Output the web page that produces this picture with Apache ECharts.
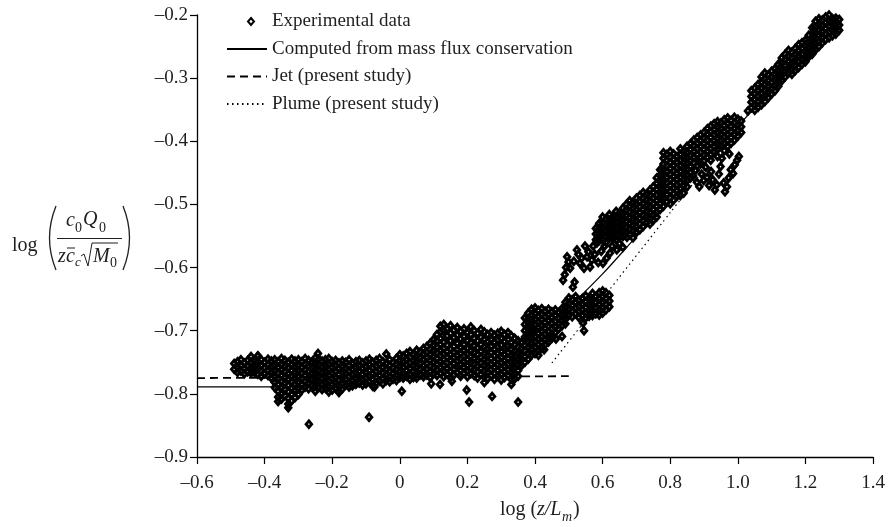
<!DOCTYPE html>
<html>
<head>
<meta charset="utf-8">
<script src="https://cdn.jsdelivr.net/npm/echarts@6/dist/echarts.min.js"></script>
<style>
  html, body { margin: 0; padding: 0; background: #fff; }
  #chart { width: 889px; height: 527px; }
</style>
</head>
<body>
<div id="chart"></div>
<script>
// Measured concentrations: each row is [log(z/Lm), log(...) values observed at that station]
const flatRun = [
  [-0.49,-0.752,-0.761],
  [-0.48,-0.749,-0.758,-0.766],
  [-0.47,-0.746,-0.755,-0.764],
  [-0.46,-0.751,-0.760,-0.768],
  [-0.45,-0.747,-0.756,-0.765],
  [-0.44,-0.741,-0.750,-0.759,-0.767],
  [-0.43,-0.748,-0.757,-0.766],
  [-0.42,-0.740,-0.749,-0.758,-0.769],
  [-0.41,-0.746,-0.755,-0.764,-0.772],
  [-0.40,-0.750,-0.759,-0.768],
  [-0.39,-0.745,-0.754,-0.763,-0.771],
  [-0.38,-0.748,-0.757,-0.766,-0.775],
  [-0.37,-0.746,-0.755,-0.764,-0.773,-0.782,-0.790],
  [-0.36,-0.749,-0.758,-0.767,-0.776,-0.785,-0.796,-0.805],
  [-0.35,-0.744,-0.753,-0.762,-0.771,-0.780,-0.790,-0.800,-0.808],
  [-0.34,-0.747,-0.756,-0.765,-0.774,-0.783,-0.793,-0.803],
  [-0.33,-0.750,-0.759,-0.768,-0.777,-0.786,-0.797,-0.807,-0.816],
  [-0.32,-0.745,-0.754,-0.763,-0.772,-0.781,-0.791,-0.801,-0.811],
  [-0.31,-0.748,-0.757,-0.766,-0.775,-0.784,-0.794,-0.806],
  [-0.30,-0.746,-0.755,-0.764,-0.773,-0.782,-0.792,-0.801],
  [-0.29,-0.749,-0.758,-0.767,-0.776,-0.785,-0.794],
  [-0.28,-0.744,-0.753,-0.762,-0.771,-0.780,-0.789],
  [-0.27,-0.747,-0.756,-0.765,-0.774,-0.783,-0.792],
  [-0.26,-0.750,-0.759,-0.768,-0.777,-0.786],
  [-0.25,-0.743,-0.752,-0.761,-0.770,-0.779,-0.788,-0.796],
  [-0.24,-0.745,-0.754,-0.763,-0.772,-0.781,-0.790],
  [-0.23,-0.748,-0.757,-0.766,-0.775,-0.784,-0.793],
  [-0.22,-0.746,-0.755,-0.764,-0.773,-0.782,-0.791],
  [-0.21,-0.744,-0.753,-0.762,-0.771,-0.780,-0.789,-0.797],
  [-0.20,-0.749,-0.758,-0.767,-0.776,-0.785,-0.794],
  [-0.19,-0.747,-0.756,-0.765,-0.774,-0.783,-0.791],
  [-0.18,-0.751,-0.760,-0.769,-0.778,-0.787,-0.796],
  [-0.17,-0.748,-0.757,-0.766,-0.775,-0.784,-0.792],
  [-0.16,-0.750,-0.759,-0.768,-0.777,-0.786],
  [-0.15,-0.746,-0.755,-0.764,-0.773,-0.782,-0.789],
  [-0.14,-0.752,-0.761,-0.770,-0.779,-0.787],
  [-0.13,-0.749,-0.758,-0.767,-0.776,-0.785],
  [-0.12,-0.747,-0.756,-0.765,-0.774,-0.783],
  [-0.11,-0.751,-0.760,-0.769,-0.778,-0.786],
  [-0.10,-0.748,-0.757,-0.766,-0.775,-0.784],
  [-0.09,-0.745,-0.754,-0.763,-0.772,-0.781],
  [-0.08,-0.750,-0.759,-0.768,-0.777,-0.788],
  [-0.07,-0.747,-0.756,-0.765,-0.774,-0.783],
  [-0.06,-0.744,-0.753,-0.762,-0.771,-0.780],
  [-0.05,-0.749,-0.758,-0.767,-0.776,-0.784],
  [-0.04,-0.737,-0.752,-0.761,-0.770,-0.779],
  [-0.03,-0.746,-0.755,-0.764,-0.773,-0.781],
  [-0.02,-0.750,-0.759,-0.768,-0.777],
  [-0.01,-0.744,-0.753,-0.762,-0.771,-0.779],
  [0.00,-0.738,-0.747,-0.756,-0.765,-0.774]
];

const kneeRun = [
  [0.01,-0.740,-0.749,-0.758,-0.767,-0.775],
  [0.02,-0.736,-0.745,-0.754,-0.763,-0.772],
  [0.03,-0.733,-0.742,-0.751,-0.760,-0.769,-0.777],
  [0.04,-0.738,-0.747,-0.756,-0.765,-0.774],
  [0.05,-0.731,-0.740,-0.749,-0.758,-0.767,-0.775],
  [0.06,-0.734,-0.743,-0.752,-0.761,-0.770],
  [0.07,-0.728,-0.737,-0.746,-0.755,-0.764,-0.773],
  [0.08,-0.725,-0.734,-0.743,-0.752,-0.761,-0.770],
  [0.09,-0.720,-0.729,-0.738,-0.747,-0.756,-0.765,-0.774],
  [0.10,-0.714,-0.723,-0.732,-0.741,-0.750,-0.759,-0.768],
  [0.11,-0.706,-0.716,-0.726,-0.735,-0.744,-0.753,-0.762,-0.771],
  [0.12,-0.693,-0.702,-0.712,-0.722,-0.731,-0.740,-0.749,-0.758,-0.767],
  [0.13,-0.690,-0.700,-0.718,-0.728,-0.737,-0.746,-0.755,-0.764,-0.773],
  [0.14,-0.697,-0.708,-0.723,-0.733,-0.742,-0.751,-0.760,-0.769],
  [0.15,-0.692,-0.704,-0.716,-0.729,-0.738,-0.747,-0.756,-0.765,-0.774],
  [0.16,-0.699,-0.711,-0.725,-0.734,-0.743,-0.752,-0.761,-0.770],
  [0.17,-0.695,-0.707,-0.720,-0.730,-0.739,-0.748,-0.757,-0.766],
  [0.18,-0.701,-0.713,-0.727,-0.736,-0.745,-0.754,-0.763,-0.772],
  [0.19,-0.697,-0.709,-0.722,-0.731,-0.740,-0.749,-0.758,-0.767],
  [0.20,-0.703,-0.716,-0.728,-0.737,-0.746,-0.755,-0.764,-0.773],
  [0.21,-0.694,-0.706,-0.719,-0.732,-0.741,-0.750,-0.759,-0.768],
  [0.22,-0.700,-0.712,-0.724,-0.735,-0.744,-0.753,-0.762,-0.771],
  [0.23,-0.704,-0.716,-0.727,-0.738,-0.747,-0.756,-0.765,-0.775],
  [0.24,-0.698,-0.710,-0.722,-0.733,-0.742,-0.751,-0.760,-0.769],
  [0.25,-0.702,-0.714,-0.726,-0.737,-0.746,-0.755,-0.764,-0.773],
  [0.26,-0.706,-0.717,-0.728,-0.739,-0.748,-0.757,-0.766,-0.776],
  [0.27,-0.703,-0.714,-0.725,-0.735,-0.744,-0.753,-0.762,-0.771],
  [0.28,-0.707,-0.718,-0.729,-0.740,-0.749,-0.758,-0.767,-0.777],
  [0.29,-0.704,-0.715,-0.726,-0.736,-0.745,-0.754,-0.763,-0.772],
  [0.30,-0.701,-0.712,-0.723,-0.733,-0.742,-0.751,-0.760,-0.769,-0.778],
  [0.31,-0.706,-0.717,-0.728,-0.738,-0.747,-0.756,-0.765,-0.774],
  [0.32,-0.703,-0.714,-0.725,-0.735,-0.744,-0.753,-0.762,-0.771],
  [0.33,-0.708,-0.719,-0.730,-0.740,-0.749,-0.758,-0.767,-0.777],
  [0.34,-0.712,-0.722,-0.732,-0.741,-0.750,-0.759,-0.768,-0.776],
  [0.35,-0.716,-0.726,-0.736,-0.745,-0.754,-0.763,-0.772],
  [0.36,-0.719,-0.728,-0.737,-0.746,-0.755],
  [0.37,-0.714,-0.723,-0.732,-0.741,-0.750],
  [0.38,-0.709,-0.718,-0.727,-0.736,-0.745]
];

const lowerStep = [
  [0.37,-0.680,-0.690,-0.700,-0.710],
  [0.38,-0.672,-0.682,-0.692,-0.702],
  [0.39,-0.666,-0.675,-0.684,-0.693,-0.702,-0.711,-0.720,-0.729,-0.738],
  [0.40,-0.664,-0.673,-0.682,-0.691,-0.700,-0.709,-0.718,-0.727,-0.736],
  [0.41,-0.668,-0.677,-0.686,-0.695,-0.704,-0.713,-0.722,-0.731],
  [0.42,-0.665,-0.674,-0.683,-0.692,-0.701,-0.710,-0.719,-0.728],
  [0.43,-0.669,-0.678,-0.687,-0.696,-0.705,-0.714,-0.722],
  [0.44,-0.666,-0.675,-0.684,-0.693,-0.702,-0.711,-0.718],
  [0.45,-0.670,-0.679,-0.688,-0.697,-0.706,-0.712],
  [0.46,-0.667,-0.676,-0.685,-0.694,-0.703],
  [0.47,-0.671,-0.680,-0.689,-0.697],
  [0.48,-0.665,-0.674,-0.683,-0.692],
  [0.49,-0.655,-0.664,-0.673,-0.682,-0.689],
  [0.50,-0.648,-0.657,-0.666,-0.675],
  [0.51,-0.651,-0.660,-0.669,-0.678],
  [0.52,-0.646,-0.655,-0.664,-0.673],
  [0.53,-0.652,-0.661,-0.670,-0.679],
  [0.54,-0.649,-0.658,-0.667,-0.676],
  [0.55,-0.645,-0.654,-0.663,-0.672,-0.680],
  [0.56,-0.650,-0.659,-0.668,-0.677],
  [0.57,-0.641,-0.650,-0.659,-0.668,-0.676],
  [0.58,-0.646,-0.655,-0.664,-0.673],
  [0.59,-0.640,-0.649,-0.658,-0.667,-0.675],
  [0.60,-0.637,-0.646,-0.655,-0.664,-0.672],
  [0.61,-0.640,-0.649,-0.658,-0.667],
  [0.62,-0.644,-0.653,-0.662]
];

const upperBand = [
  [0.58,-0.538,-0.547,-0.556],
  [0.59,-0.530,-0.539,-0.548,-0.557],
  [0.60,-0.520,-0.529,-0.538,-0.547,-0.556],
  [0.61,-0.524,-0.533,-0.542,-0.551,-0.560],
  [0.62,-0.516,-0.525,-0.534,-0.543,-0.552],
  [0.63,-0.519,-0.528,-0.537,-0.546,-0.555],
  [0.64,-0.511,-0.520,-0.529,-0.538,-0.547,-0.556],
  [0.65,-0.514,-0.523,-0.532,-0.541,-0.550],
  [0.66,-0.506,-0.515,-0.524,-0.533,-0.542,-0.551],
  [0.67,-0.500,-0.509,-0.518,-0.527,-0.536,-0.545],
  [0.68,-0.494,-0.503,-0.512,-0.521,-0.530,-0.539,-0.548],
  [0.69,-0.497,-0.506,-0.515,-0.524,-0.533,-0.542],
  [0.70,-0.490,-0.499,-0.508,-0.517,-0.526,-0.535,-0.544],
  [0.71,-0.486,-0.495,-0.504,-0.513,-0.522,-0.531,-0.540],
  [0.72,-0.481,-0.490,-0.499,-0.508,-0.517,-0.526,-0.535],
  [0.73,-0.484,-0.493,-0.502,-0.511,-0.520,-0.529],
  [0.74,-0.477,-0.486,-0.495,-0.504,-0.513,-0.522,-0.531],
  [0.75,-0.472,-0.481,-0.490,-0.499,-0.508,-0.517,-0.525],
  [0.76,-0.458,-0.467,-0.476,-0.485,-0.494,-0.503,-0.512,-0.520],
  [0.77,-0.445,-0.454,-0.463,-0.472,-0.481,-0.490,-0.499,-0.508],
  [0.78,-0.418,-0.427,-0.436,-0.445,-0.454,-0.463,-0.472,-0.481,-0.490,-0.503],
  [0.79,-0.421,-0.430,-0.439,-0.448,-0.457,-0.466,-0.475,-0.484,-0.496],
  [0.80,-0.416,-0.425,-0.434,-0.443,-0.452,-0.461,-0.470,-0.479,-0.490,-0.499],
  [0.81,-0.420,-0.429,-0.438,-0.447,-0.456,-0.465,-0.474,-0.483,-0.493],
  [0.82,-0.424,-0.433,-0.442,-0.451,-0.460,-0.469,-0.478,-0.487],
  [0.83,-0.412,-0.421,-0.430,-0.439,-0.448,-0.457,-0.466,-0.475,-0.486],
  [0.84,-0.416,-0.425,-0.434,-0.443,-0.452,-0.461,-0.470,-0.482],
  [0.85,-0.408,-0.417,-0.426,-0.435,-0.444,-0.453,-0.462,-0.472],
  [0.86,-0.404,-0.413,-0.422,-0.431,-0.440,-0.449,-0.458]
];

const topRun = [
  [0.87,-0.398,-0.407,-0.416,-0.425,-0.434],
  [0.88,-0.394,-0.403,-0.412,-0.421,-0.430,-0.439],
  [0.89,-0.390,-0.399,-0.408,-0.417,-0.426,-0.435],
  [0.90,-0.386,-0.395,-0.404,-0.413,-0.422,-0.431],
  [0.91,-0.380,-0.389,-0.398,-0.407,-0.416,-0.425],
  [0.92,-0.376,-0.385,-0.394,-0.403,-0.412,-0.421],
  [0.93,-0.372,-0.381,-0.390,-0.399,-0.408,-0.417],
  [0.94,-0.369,-0.378,-0.387,-0.396,-0.405,-0.413],
  [0.95,-0.371,-0.380,-0.389,-0.398,-0.407],
  [0.96,-0.366,-0.375,-0.384,-0.393,-0.402],
  [0.97,-0.363,-0.372,-0.381,-0.390,-0.399,-0.408],
  [0.98,-0.367,-0.376,-0.385,-0.394,-0.403],
  [0.99,-0.362,-0.371,-0.380,-0.389,-0.398],
  [1.00,-0.365,-0.374,-0.383,-0.392],
  [1.01,-0.368,-0.377,-0.386],
  [1.03,-0.352],
  [1.04,-0.320,-0.329,-0.338,-0.347],
  [1.05,-0.316,-0.325,-0.334,-0.343,-0.351],
  [1.06,-0.310,-0.319,-0.328,-0.337,-0.346],
  [1.07,-0.298,-0.307,-0.316,-0.325,-0.334,-0.342],
  [1.08,-0.292,-0.301,-0.310,-0.319,-0.328,-0.337],
  [1.09,-0.295,-0.304,-0.313,-0.322,-0.331],
  [1.10,-0.289,-0.298,-0.307,-0.316,-0.325],
  [1.11,-0.285,-0.294,-0.303,-0.312,-0.320],
  [1.12,-0.278,-0.287,-0.296,-0.305,-0.313],
  [1.13,-0.268,-0.277,-0.286,-0.295,-0.304],
  [1.14,-0.262,-0.271,-0.280,-0.289,-0.298],
  [1.15,-0.256,-0.265,-0.274,-0.283,-0.292],
  [1.16,-0.259,-0.268,-0.277,-0.286,-0.294],
  [1.17,-0.253,-0.262,-0.271,-0.280,-0.288],
  [1.18,-0.247,-0.256,-0.265,-0.274,-0.283],
  [1.19,-0.244,-0.253,-0.262,-0.271,-0.278],
  [1.20,-0.240,-0.249,-0.258,-0.267,-0.274],
  [1.21,-0.232,-0.241,-0.250,-0.259,-0.266],
  [1.22,-0.220,-0.229,-0.238,-0.247,-0.256,-0.262],
  [1.23,-0.210,-0.219,-0.228,-0.237,-0.246,-0.255],
  [1.24,-0.206,-0.215,-0.224,-0.233,-0.242,-0.250],
  [1.25,-0.208,-0.217,-0.226,-0.235,-0.244],
  [1.26,-0.203,-0.212,-0.221,-0.230,-0.239],
  [1.27,-0.200,-0.209,-0.218,-0.227,-0.236],
  [1.28,-0.197,-0.206,-0.215,-0.224,-0.233],
  [1.29,-0.196,-0.205,-0.214,-0.223,-0.230],
  [1.30,-0.198,-0.207,-0.216,-0.224]
];

// Isolated readings as [x, y]
const upperScatter = [
  [0.483,-0.620],[0.488,-0.611],[0.492,-0.600],[0.495,-0.583],[0.499,-0.591],[0.504,-0.601],
  [0.512,-0.631],[0.515,-0.590],[0.517,-0.623],[0.524,-0.572],[0.528,-0.579],[0.533,-0.593],
  [0.538,-0.585],[0.545,-0.601],[0.548,-0.566],[0.554,-0.583],[0.558,-0.575],[0.563,-0.599],
  [0.568,-0.588],[0.572,-0.566],[0.577,-0.579],[0.583,-0.561],[0.587,-0.592],[0.592,-0.552],
  [0.596,-0.574],[0.601,-0.593],[0.606,-0.566],[0.612,-0.585],[0.622,-0.577],[0.628,-0.566],
  [0.631,-0.552],[0.642,-0.572],[0.650,-0.562],[0.660,-0.568],[0.672,-0.552],[0.690,-0.553]
];

const lowerRightScatter = [
  [0.868,-0.455],[0.875,-0.446],[0.879,-0.465],[0.885,-0.432],[0.886,-0.472],[0.893,-0.452],
  [0.899,-0.462],[0.905,-0.441],[0.909,-0.457],[0.915,-0.470],[0.920,-0.430],[0.921,-0.448],
  [0.926,-0.461],[0.932,-0.477],[0.938,-0.469],[0.940,-0.424],[0.944,-0.452],[0.949,-0.440],
  [0.953,-0.427],[0.958,-0.466],[0.960,-0.415],[0.962,-0.480],[0.968,-0.472],[0.973,-0.458],
  [0.975,-0.420],[0.979,-0.445],[0.986,-0.451],[0.991,-0.437],[0.998,-0.430],[1.003,-0.424]
];

const strays = [
  [-0.420,-0.740],[-0.360,-0.812],[-0.330,-0.822],[-0.269,-0.848],[-0.242,-0.736],
  [-0.180,-0.798],[-0.091,-0.837],[-0.075,-0.789],[0.006,-0.796],[0.093,-0.784],
  [0.119,-0.785],[0.154,-0.780],[0.198,-0.794],[0.205,-0.813],[0.250,-0.782],
  [0.273,-0.804],[0.330,-0.785],[0.350,-0.813],[0.410,-0.739],[0.427,-0.730],
  [0.462,-0.713],[0.480,-0.709],[0.542,-0.688],[0.545,-0.700]
];

// Model curves
const computedLine = [
  [-0.6,-0.789],[-0.4,-0.789],[-0.3,-0.789],[-0.2,-0.787],[-0.1,-0.783],[0.0,-0.777],
  [0.1,-0.767],[0.2,-0.752],[0.3,-0.731],[0.4,-0.700],[0.5,-0.662],[0.6,-0.610],
  [0.7,-0.551],[0.8,-0.495],[0.9,-0.437],[1.0,-0.377],[1.1,-0.315],[1.2,-0.252],[1.3,-0.190]
];
const jetLine = [[-0.6,-0.775],[0.5,-0.772]];
const plumeLine = [[0.45,-0.751],[0.6,-0.649],[0.8,-0.513],[1.0,-0.377],[1.29,-0.180]];

const seriesNames = [
  'Experimental data',
  'Computed from mass flux conservation',
  'Jet (present study)',
  'Plume (present study)'
];

function expandRows(rows) {
  const out = [];
  rows.forEach(r => { for (let i = 1; i < r.length; i++) out.push([r[0], r[i]]); });
  return out;
}

const experimental = [].concat(
  expandRows(flatRun), expandRows(kneeRun), expandRows(lowerStep),
  expandRows(upperBand), expandRows(topRun),
  upperScatter, lowerRightScatter, strays
);

const FONT = '"Liberation Serif", "Times New Roman", serif';
const INK = '#1f1f1f';

function tickText(v) {
  if (Math.abs(v) < 1e-9) return '0';
  const s = Math.abs(v).toFixed(1);
  return v < 0 ? '\u2013' + s : s;
}

const chart = echarts.init(document.getElementById('chart'), null, { renderer: 'canvas' });

const axisCommon = {
  type: 'value',
  axisLine: { show: true, onZero: false, lineStyle: { color: '#000', width: 1.3 } },
  axisTick: { show: true, inside: false, length: 7, lineStyle: { color: '#000', width: 1.2 } },
  splitLine: { show: false },
  axisLabel: { formatter: tickText, fontFamily: FONT, fontSize: 19, color: INK }
};

// Pieces of the y-axis title: log( c0Q0 / (z c̄c √M0) )
function t(text, x, y, size, italic) {
  return {
    type: 'text', x: x, y: y, silent: true,
    style: {
      text: text, fill: INK,
      font: (italic ? 'italic ' : '') + size + 'px ' + FONT,
      align: 'left', verticalAlign: 'middle'
    }
  };
}
function seg(x1, y1, x2, y2, w) {
  return { type: 'line', silent: true, shape: { x1, y1, x2, y2 }, style: { stroke: INK, lineWidth: w || 1 } };
}

const yTitle = [
  t('log', 12, 246, 20, false),
  { type: 'bezierCurve', silent: true, shape: { x1: 56, y1: 206, cpx1: 43, cpy1: 238, x2: 56, y2: 270 },
    style: { stroke: INK, lineWidth: 1.3, fill: null } },
  { type: 'bezierCurve', silent: true, shape: { x1: 123, y1: 206, cpx1: 136, cpy1: 238, x2: 123, y2: 270 },
    style: { stroke: INK, lineWidth: 1.3, fill: null } },
  t('c', 66, 221, 20, true),
  t('0', 75, 228, 14, false),
  t('Q', 83, 220, 20, true),
  t('0', 99, 228, 14, false),
  seg(57, 238.5, 122, 238.5, 1),
  t('z', 58, 257, 20, true),
  t('c', 66, 257, 20, true),
  seg(67, 248, 75, 248, 1),
  t('c', 75, 263, 13, true),
  { type: 'polyline', silent: true,
    shape: { points: [[81, 256], [84, 254], [88, 266], [92, 243], [118, 243]] },
    style: { stroke: INK, lineWidth: 1, fill: null } },
  t('M', 93, 257, 20, true),
  t('0', 110, 263, 14, false)
];

const xTitle = [
  t('log (', 500, 510, 20, false),
  t('z/L', 537, 510, 20, true),
  t('m', 562, 517, 14, true),
  t(')', 573, 510, 20, false)
];

const hideDot = { opacity: 0 };

chart.setOption({
  animation: false,
  backgroundColor: '#fff',
  grid: { left: 197, right: 16, top: 15, bottom: 70, containLabel: false },
  xAxis: Object.assign({}, axisCommon, {
    min: -0.6, max: 1.4, interval: 0.2,
    axisLabel: Object.assign({}, axisCommon.axisLabel, { margin: 17 })
  }),
  yAxis: Object.assign({}, axisCommon, {
    min: -0.9, max: -0.2, interval: 0.1,
    axisLabel: Object.assign({}, axisCommon.axisLabel, { margin: 9 })
  }),
  legend: {
    orient: 'vertical', left: 221, top: 7,
    itemWidth: 40, itemHeight: 14, itemGap: 8.5,
    selectedMode: false,
    textStyle: { fontFamily: FONT, fontSize: 19, color: INK },
    data: [
      { name: seriesNames[0],
        icon: 'path://M0 0M40 0M40 14M0 14M24 3.5L27 7L24 10.5L21 7Z',
        itemStyle: { color: 'rgba(0,0,0,0)', borderColor: '#000', borderWidth: 2, opacity: 1 } },
      { name: seriesNames[1], itemStyle: hideDot },
      { name: seriesNames[2], itemStyle: hideDot },
      { name: seriesNames[3], itemStyle: hideDot }
    ]
  },
  graphic: yTitle.concat(xTitle),
  series: [
    {
      name: seriesNames[0], type: 'scatter', data: experimental,
      symbol: 'diamond', symbolSize: [5.5, 6.5],
      itemStyle: { color: 'rgba(0,0,0,0)', borderColor: '#000', borderWidth: 2.9, opacity: 1 },
      large: false, progressive: 0, z: 2
    },
    {
      name: seriesNames[1], type: 'line', data: computedLine,
      symbol: 'none', smooth: 0.3, clip: true, z: 3,
      itemStyle: { color: '#000' },
      lineStyle: { color: '#000', width: 1.2, type: 'solid' }
    },
    {
      name: seriesNames[2], type: 'line', data: jetLine,
      symbol: 'none', clip: true, z: 3,
      itemStyle: { color: '#000' },
      lineStyle: { color: '#000', width: 1.8, type: [8, 5] }
    },
    {
      name: seriesNames[3], type: 'line', data: plumeLine,
      symbol: 'none', smooth: 0.2, clip: true, z: 3,
      itemStyle: { color: '#000' },
      lineStyle: { color: '#000', width: 1.2, type: [1.5, 3.5] }
    }
  ]
});
</script>
</body>
</html>
